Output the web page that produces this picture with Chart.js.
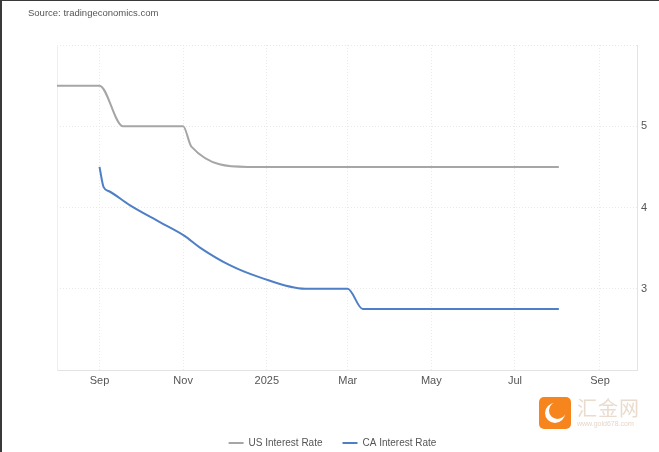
<!DOCTYPE html>
<html>
<head>
<meta charset="utf-8">
<script src="https://cdn.jsdelivr.net/npm/chart.js@4"></script>
<style>
  html, body { margin: 0; padding: 0; background: #fff; }
  body { width: 659px; height: 452px; overflow: hidden; position: relative; font-family: "Liberation Sans", Arial, sans-serif; }
  #frame { position: absolute; left: 0; top: 0; width: 657px; height: 451px; border-left: 2px solid #3a3a3a; border-top: 1px solid #3a3a3a; pointer-events: none; }
  #source { position: absolute; left: 28px; top: 7px; font-size: 9.5px; color: #555; }
  #wrap { position: absolute; left: 0; top: 0; width: 659px; height: 452px; }
  #logo { position: absolute; left: 539px; top: 397px; width: 32px; height: 32px; border-radius: 5px; background: #f7851d; overflow: hidden; }
  #logo .c1 { position: absolute; left: 6px; top: 6px; width: 20px; height: 20px; border-radius: 50%; background: #fff; }
  #logo .c2 { position: absolute; left: 10px; top: 5px; width: 17px; height: 17px; border-radius: 50%; background: #f7851d; }
  #wm { position: absolute; left: 577px; top: 397px; font-family: "Noto Sans CJK SC", sans-serif; font-size: 20px; line-height: 22px; color: #e9dccf; letter-spacing: 1px; }
  #wmurl { position: absolute; left: 577px; top: 420px; font-size: 7px; color: #e6d6c8; }
</style>
</head>
<body>
<div id="wrap"><canvas id="chart" width="659" height="452"></canvas></div>
<div id="source">Source: tradingeconomics.com</div>
<div id="logo"><div class="c1"></div><div class="c2"></div></div>
<div id="wm">汇金网</div>
<div id="wmurl">www.gold678.com</div>
<div id="frame"></div>
<script>
var usDates = ["2024-08-01", "2024-09-01", "2024-09-18", "2024-11-01", "2024-11-07", "2024-12-18", "2025-08-02"];
var usRates = [5.5, 5.5, 5.0, 5.0, 4.75, 4.5, 4.5];

var caDates = ["2024-09-01", "2024-09-04", "2024-09-08", "2024-09-23", "2024-10-15", "2024-11-02", "2024-11-13", "2024-12-05", "2024-12-27", "2025-01-29", "2025-03-01", "2025-03-12", "2025-08-02"];
var caRates = [4.5, 4.25, 4.2, 4.03, 3.82, 3.65, 3.51, 3.29, 3.14, 3.0, 3.0, 2.75, 2.75];

var tickDates = ["2024-09-01", "2024-11-01", "2025-01-01", "2025-03-01", "2025-05-01", "2025-07-01", "2025-09-01"];
var tickLabels = ["Sep", "Nov", "2025", "Mar", "May", "Jul", "Sep"];

function ts(s) {
    var p = s.split("-");
    return Date.UTC(+p[0], +p[1] - 1, +p[2]);
}
function toPoints(dates, vals) {
    return dates.map(function (d, i) { return { x: ts(d), y: vals[i] }; });
}

var tickValues = tickDates.map(ts);

var chrt = document.getElementById("chart").getContext("2d");
var chartId = new Chart(chrt, {
    type: 'line',
    data: {
        datasets: [{
            label: "US Interest Rate",
            data: toPoints(usDates, usRates),
            borderColor: "#a6a6a6",
            backgroundColor: "#a6a6a6",
            borderWidth: 2,
            pointRadius: 0,
            cubicInterpolationMode: 'monotone'
        }, {
            label: "CA Interest Rate",
            data: toPoints(caDates, caRates),
            borderColor: "#4f7fc6",
            backgroundColor: "#4f7fc6",
            borderWidth: 2,
            pointRadius: 0,
            cubicInterpolationMode: 'monotone'
        }]
    },
    options: {
        responsive: false,
        animation: false,
        layout: { padding: { left: 6, right: 0, top: 45, bottom: -6 } },
        plugins: {
            legend: {
                display: true,
                position: 'bottom',
                labels: {
                    color: '#555',
                    font: { size: 10, family: "Liberation Sans" },
                    usePointStyle: true,
                    pointStyle: 'line',
                    pointStyleWidth: 15,
                    boxWidth: 15,
                    padding: 20
                }
            },
            tooltip: { enabled: false }
        },
        scales: {
            x: {
                type: 'linear',
                min: ts("2024-08-01"),
                max: ts("2025-09-28"),
                afterBuildTicks: function (scale) {
                    scale.ticks = tickValues.map(function (v) { return { value: v }; });
                },
                afterFit: function (scale) { scale.height = 48; },
                ticks: {
                    color: '#555',
                    font: { size: 11, family: "Liberation Sans" },
                    padding: 4,
                    maxRotation: 0,
                    callback: function (v) {
                        var i = tickValues.indexOf(v);
                        return i >= 0 ? tickLabels[i] : '';
                    }
                },
                grid: { color: '#e9e9e9', drawTicks: false },
                border: { display: true, color: '#e3e3e3', dash: [1, 2] }
            },
            y: {
                position: 'right',
                min: 2,
                max: 6,
                afterFit: function (scale) { scale.width = 22; },
                ticks: {
                    stepSize: 1,
                    color: '#555',
                    font: { size: 11, family: "Liberation Sans" },
                    padding: 4,
                    callback: function (v) { return (v === 2 || v === 6) ? '' : v; }
                },
                grid: { color: '#e9e9e9', drawTicks: false },
                border: { display: true, color: '#e3e3e3', dash: [1, 2] }
            },
            yLeft: {
                position: 'left',
                afterFit: function (scale) { scale.width = 51; },
                ticks: { display: false },
                grid: { display: false, drawTicks: false },
                border: { display: true, color: '#eeeeee' }
            }
        }
    }
});
</script>
</body>
</html>
